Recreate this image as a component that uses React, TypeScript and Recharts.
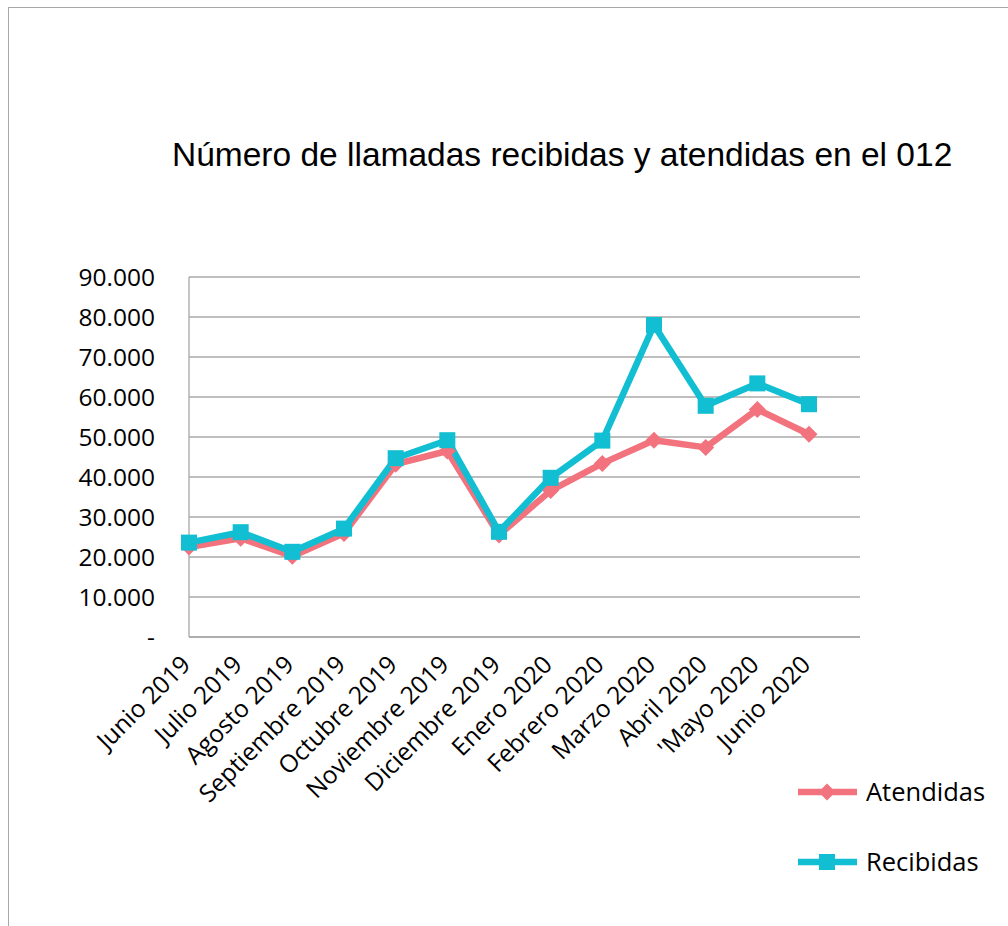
import { LineChart, Line, XAxis, YAxis, CartesianGrid } from 'recharts'

const MONTHS = [
  'Junio 2019', 'Julio 2019', 'Agosto 2019', 'Septiembre 2019', 'Octubre 2019',
  'Noviembre 2019', 'Diciembre 2019', 'Enero 2020', 'Febrero 2020', 'Marzo 2020',
  'Abril 2020', "'Mayo 2020", 'Junio 2020',
]
const ATENDIDAS = [22500, 24700, 20200, 25900, 43200, 46500, 25500, 36600, 43400, 49200, 47400, 56900, 50700]
const RECIBIDAS = [23600, 26200, 21300, 27100, 44700, 49200, 26300, 39800, 49100, 78000, 57800, 63400, 58200]
const Y_TICKS = [0, 10000, 20000, 30000, 40000, 50000, 60000, 70000, 80000, 90000]
const TITLE = 'Número de llamadas recibidas y atendidas en el 012'

const PINK = '#f2727e'
const CYAN = '#12bed2'
const GRID = '#a8a8a8'
const FONT = '"Open Sans", sans-serif'

const data = MONTHS.map((month, i) => ({ month, atendidas: ATENDIDAS[i], recibidas: RECIBIDAS[i] }))

const fmt = (v: number) => (v === 0 ? '-' : v.toLocaleString('de-DE'))

const Diamond = ({ cx, cy }: any) => {
  if (cx == null || cy == null) return null
  const r = 8.5
  return <polygon points={`${cx},${cy - r} ${cx + r},${cy} ${cx},${cy + r} ${cx - r},${cy}`} fill={PINK} />
}

const Square = ({ cx, cy }: any) => {
  if (cx == null || cy == null) return null
  return <rect x={cx - 8} y={cy - 8} width={16} height={16} fill={CYAN} />
}

const XTick = ({ x, y, payload }: any) => (
  <text
    x={x + 3}
    y={y + 29}
    transform={`rotate(-45, ${x + 3}, ${y + 29})`}
    textAnchor="end"
    fontFamily={FONT}
    fontSize={24.5}
    fill="#000"
  >
    {payload.value}
  </text>
)

const YTick = ({ x, y, payload }: any) => (
  <text x={x - 34} y={y} dy="0.36em" textAnchor="end" fontFamily={FONT} fontSize={24.5} fill="#000">
    {fmt(payload.value)}
  </text>
)

export default function App() {
  return (
    <div
      style={{
        position: 'absolute',
        left: 8,
        top: 7,
        width: 1000,
        height: 918,
        borderTop: `1px solid ${GRID}`,
        borderLeft: `1px solid ${GRID}`,
        background: '#fff',
      }}
    >
      <style>{'html,body{overflow:hidden}'}</style>
      <LineChart width={1000} height={918} data={data} margin={{ top: 269, right: 149, bottom: 169, left: 0 }}>
        <CartesianGrid vertical={false} stroke={GRID} strokeWidth={1.3} />
        <XAxis
          dataKey="month"
          height={120}
          padding={{ left: 0, right: 51 }}
          interval={0}
          tickSize={0}
          tickMargin={0}
          tickLine={false}
          axisLine={{ stroke: GRID, strokeWidth: 1.3 }}
          tick={<XTick />}
        />
        <YAxis
          width={180}
          domain={[0, 90000]}
          ticks={Y_TICKS}
          interval={0}
          tickSize={0}
          tickMargin={0}
          tickLine={false}
          axisLine={{ stroke: GRID, strokeWidth: 1.3 }}
          tick={<YTick />}
        />
        <Line
          dataKey="atendidas"
          name="Atendidas"
          stroke={PINK}
          strokeWidth={6.5}
          strokeLinejoin="round"
          dot={<Diamond />}
          activeDot={false}
          isAnimationActive={false}
        />
        <Line
          dataKey="recibidas"
          name="Recibidas"
          stroke={CYAN}
          strokeWidth={6.5}
          strokeLinejoin="round"
          dot={<Square />}
          activeDot={false}
          isAnimationActive={false}
        />
      </LineChart>
      <svg width={1000} height={918} style={{ position: 'absolute', left: 0, top: 0, pointerEvents: 'none' }}>
        <text x={163} y={158} fontFamily='"Liberation Sans", Arial, sans-serif' fontSize={33.5} fill="#000">
          {TITLE}
        </text>
        <g>
          <line x1={789} x2={848} y1={784} y2={784} stroke={PINK} strokeWidth={6.5} />
          <Diamond cx={818} cy={784} />
          <text x={857} y={784} dy="0.36em" fontFamily={FONT} fontSize={25.5} fill="#000">Atendidas</text>
        </g>
        <g>
          <line x1={789} x2={848} y1={854} y2={854} stroke={CYAN} strokeWidth={6.5} />
          <Square cx={818} cy={854} />
          <text x={857} y={854} dy="0.36em" fontFamily={FONT} fontSize={25.5} fill="#000">Recibidas</text>
        </g>
      </svg>
    </div>
  )
}
